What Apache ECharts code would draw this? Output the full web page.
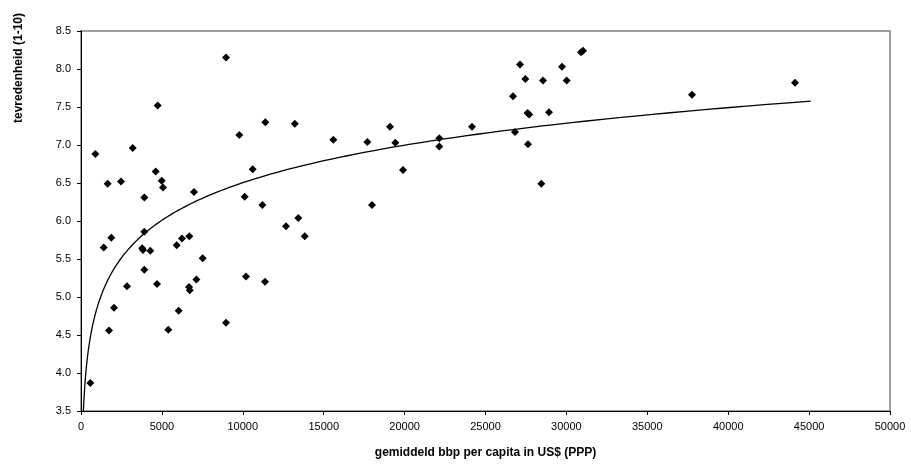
<!DOCTYPE html>
<html>
<head>
<meta charset="utf-8">
<script src="https://cdn.jsdelivr.net/npm/echarts@6/dist/echarts.min.js"></script>
<style>
  html, body {margin: 0; padding: 0; background: #fff;}
  #chart {width: 911px; height: 464px;}
</style>
</head>
<body>
<div id="chart"></div>
<script>
  // gemiddeld bbp per capita (US$, PPP) per land
  const bbp = [
    577, 885, 1401, 1648, 1730, 1875, 2040, 2472, 2843, 3193,
    3780, 3830, 3914, 3914, 3914, 4285, 4616, 4697, 4738, 4985,
    5068, 5398, 5914, 6036, 6242, 6680, 6695, 6720, 6984, 7129,
    7519, 8962, 8962, 9785, 10115, 10198, 10610, 11208, 11372, 11393,
    12670, 13215, 13431, 13830, 15594, 17694, 17985, 19097, 19425, 19901,
    22145, 22145, 24166, 26700, 26823, 27132, 27462, 27600, 27700, 27627,
    28450, 28554, 28925, 29728, 30017, 30902, 31026, 37763, 44128
  ]
  // tevredenheid (1-10) per land, zelfde volgorde
  const tevredenheid = [
    3.87, 6.88, 5.65, 6.49, 4.56, 5.78, 4.86, 6.52, 5.14, 6.96,
    5.64, 5.62, 6.31, 5.86, 5.36, 5.61, 6.65, 5.17, 7.52, 6.53,
    6.44, 4.57, 5.68, 4.82, 5.77, 5.13, 5.80, 5.09, 6.38, 5.23,
    5.51, 8.15, 4.66, 7.13, 6.32, 5.27, 6.68, 6.21, 5.20, 7.30,
    5.93, 7.28, 6.04, 5.80, 7.07, 7.04, 6.21, 7.24, 7.03, 6.67,
    7.09, 6.98, 7.24, 7.64, 7.17, 8.06, 7.87, 7.42, 7.40, 7.01,
    6.49, 7.85, 7.43, 8.03, 7.85, 8.22, 8.24, 7.66, 7.82
  ]
  const xTicks = [0, 5000, 10000, 15000, 20000, 25000, 30000, 35000, 40000, 45000, 50000]
  const yTicks = [3.5, 4.0, 4.5, 5.0, 5.5, 6.0, 6.5, 7.0, 7.5, 8.0, 8.5]
  // bereik van de logaritmische trendlijn
  const trendVan = 100
  const trendTot = 45100

  // logaritmische trendlijn (kleinste kwadraten op ln x), zoals Excel
  const n = bbp.length
  let sx = 0, sy = 0, sxx = 0, sxy = 0
  for (let i = 0; i < n; i++) {
    const lx = Math.log(bbp[i])
    sx += lx; sy += tevredenheid[i]; sxx += lx * lx; sxy += lx * tevredenheid[i]
  }
  const a = (n * sxy - sx * sy) / (n * sxx - sx * sx)
  const b = (sy - a * sx) / n
  const trend = []
  const stappen = 200
  for (let i = 0; i <= stappen; i++) {
    const x = trendVan * Math.pow(trendTot / trendVan, i / stappen)
    trend.push([x, a * Math.log(x) + b])
  }

  const font = 'Liberation Sans, Arial, sans-serif'
  const myChart = echarts.init(document.getElementById('chart'), null, {renderer: 'canvas'})
  myChart.setOption({
    animation: false,
    backgroundColor: '#fff',
    grid: {
      left: 81, right: 21, top: 31, bottom: 52,
      show: true, borderColor: '#808080', borderWidth: 1.5
    },
    xAxis: {
      type: 'value',
      min: xTicks[0], max: xTicks[xTicks.length - 1], interval: 5000,
      name: 'gemiddeld bbp per capita in US$ (PPP)',
      nameLocation: 'middle', nameGap: 36,
      nameTextStyle: {fontFamily: font, fontSize: 12, fontWeight: 'bold', color: '#000'},
      axisLine: {show: true, lineStyle: {color: '#000', width: 1}},
      axisTick: {show: true, length: 4, lineStyle: {color: '#000'}},
      axisLabel: {
        margin: 10, fontFamily: font, fontSize: 11, color: '#000',
        formatter: v => String(v)
      },
      splitLine: {show: false}
    },
    yAxis: {
      type: 'value',
      min: yTicks[0], max: yTicks[yTicks.length - 1], interval: 0.5,
      axisLine: {show: true, lineStyle: {color: '#000', width: 1}},
      axisTick: {show: true, length: 4, lineStyle: {color: '#000'}},
      axisLabel: {
        margin: 10, fontFamily: font, fontSize: 11, color: '#000',
        formatter: v => v.toFixed(1)
      },
      splitLine: {show: false}
    },
    graphic: [{
      type: 'text',
      x: 19, y: 68,
      rotation: Math.PI / 2,
      style: {
        text: 'tevredenheid (1-10)',
        font: 'bold 12px ' + font,
        fill: '#000',
        align: 'center',
        verticalAlign: 'middle'
      }
    }],
    series: [
      {
        type: 'scatter',
        symbol: 'diamond',
        symbolSize: 8,
        itemStyle: {color: '#000', opacity: 1},
        data: bbp.map((x, i) => [x, tevredenheid[i]]),
        z: 3
      },
      {
        type: 'line',
        data: trend,
        showSymbol: false,
        clip: true,
        lineStyle: {color: '#000', width: 1.3},
        z: 2
      }
    ]
  })
</script>
</body>
</html>
